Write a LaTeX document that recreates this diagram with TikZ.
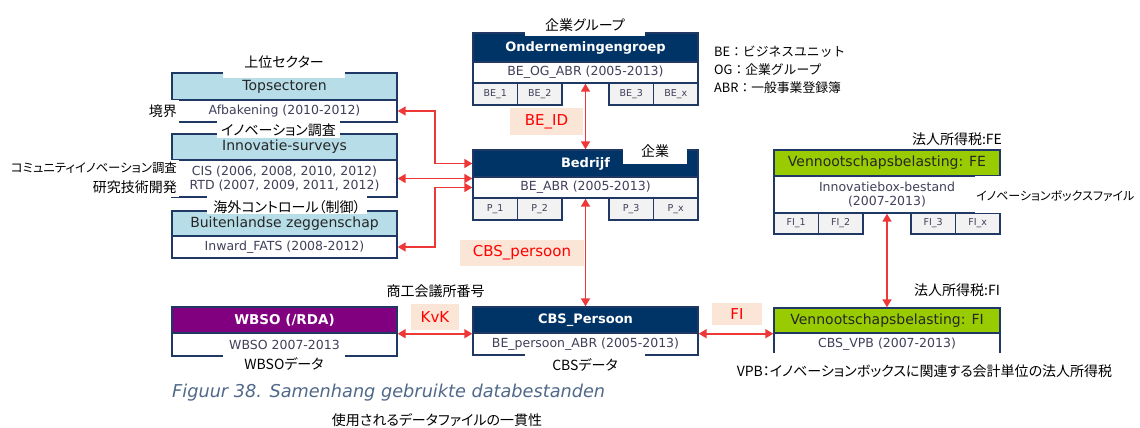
\documentclass[tikz,border=0pt]{standalone}
\usepackage{fontspec}
\setmainfont{DejaVu Sans}
\newfontfamily\jpfont[RawFeature=+palt]{Noto Sans CJK JP}
\newfontfamily\jpwide{Noto Sans CJK JP}
\usetikzlibrary{arrows.meta,positioning}
\definecolor{navyhead}{RGB}{0,51,102}
\definecolor{frame}{RGB}{31,56,100}
\definecolor{tealhead}{RGB}{183,222,232}
\definecolor{limehead}{RGB}{153,204,0}
\definecolor{plumhead}{RGB}{128,0,128}
\definecolor{cellgray}{RGB}{242,242,242}
\definecolor{keypink}{RGB}{251,229,214}
\definecolor{bodytext}{RGB}{64,64,90}
\definecolor{capblue}{RGB}{80,105,138}
\definecolor{linkred}{RGB}{238,55,55}

\begin{document}
\begin{tikzpicture}[x=1pt,y=-1pt,
    box/.style={draw=frame,line width=1.4pt,minimum width=225pt,inner sep=0pt},
    hdrnavy/.style={box,fill=navyhead,text=white,font=\bfseries\fontsize{13}{15}\selectfont},
    hdrblue/.style={box,fill=tealhead,text=black!85,font=\fontsize{14}{16}\selectfont},
    hdrgreen/.style={box,fill=limehead,text=black!85,font=\fontsize{14}{16}\selectfont},
    hdrplum/.style={box,fill=plumhead,text=white,font=\bfseries\fontsize{13.5}{15}\selectfont},
    row/.style={box,fill=white,text=bodytext,align=center,font=\fontsize{12.5}{14.5}\selectfont},
    cell/.style={draw=frame,line width=1.4pt,fill=cellgray,minimum width=44.5pt,minimum height=22pt,inner sep=0pt,text=bodytext,font=\fontsize{9.5}{11}\selectfont},
    key/.style={fill=keypink,text=red,inner sep=0pt,font=\fontsize{15}{17}\selectfont},
    note/.style={fill=white,inner xsep=2pt,inner ysep=2pt,font=\jpfont\fontsize{14}{17}\selectfont},
    link/.style={draw=linkred,line width=1.7pt,{Triangle[length=8pt,width=9pt]}-{Triangle[length=8pt,width=9pt]}}]

  \useasboundingbox (0,0) rectangle (1140,428);
  \fill[white] (0,0) rectangle (1140,428);

  % left column
  \node at (284.5,86.5) [hdrblue,minimum height=27pt] (tophdr) {Topsectoren};
  \node at (284.5,111) [row,minimum height=22pt] (topbody) {Afbakening (2010-2012)};
  \node at (284.5,147) [hdrblue,minimum height=26pt] (innohdr) {Innovatie-surveys};
  \node at (284.5,178.5) [row,minimum height=37pt] (innobody) {CIS (2006, 2008, 2010, 2012)\\RTD (2007, 2009, 2011, 2012)};
  \node at (284.5,223.5) [hdrblue,minimum height=25pt] (buithdr) {Buitenlandse zeggenschap};
  \node at (284.5,247) [row,minimum height=22pt] (buitbody) {Inward\_FATS (2008-2012)};
  \node at (284.5,320) [hdrplum,minimum height=26pt] (wbsohdr) {WBSO (/RDA)};
  \node at (284.5,344.5) [row,minimum height=23pt] (wbsobody) {WBSO 2007-2013};

  % middle column
  \node at (585.5,47.5) [hdrnavy,minimum height=29pt] (oghdr) {Ondernemingengroep};
  \node at (585.5,72.5) [row,minimum height=21pt] (ogbody) {BE\_OG\_ABR (2005-2013)};
  \node at (495.25,94) [cell] (og1) {BE\_1};
  \node at (539.75,94) [cell] (og2) {BE\_2};
  \node at (631.25,94) [cell] (og3) {BE\_3};
  \node at (675.75,94) [cell] (ogx) {BE\_x};
  \node at (585.5,163.5) [hdrnavy,minimum height=27pt] (bedhdr) {Bedrijf};
  \node at (585.5,187.5) [row,minimum height=21pt] (bedbody) {BE\_ABR (2005-2013)};
  \node at (495.25,209) [cell] (p1) {P\_1};
  \node at (539.75,209) [cell] (p2) {P\_2};
  \node at (631.25,209) [cell] (p3) {P\_3};
  \node at (675.75,209) [cell] (px) {P\_x};
  \node at (585.5,320) [hdrnavy,minimum height=26pt] (cbshdr) {CBS\_Persoon};
  \node at (585.5,344) [row,minimum height=22pt] (cbsbody) {BE\_persoon\_ABR (2005-2013)};

  % right column
  \node at (887,163) [hdrgreen,minimum width=226pt,minimum height=26pt] (fehdr) {Vennootschapsbelasting: FE};
  \node at (887,194.5) [row,minimum width=226pt,minimum height=37pt] (febody) {Innovatiebox-bestand\\(2007-2013)};
  \node at (796.25,223.5) [cell,minimum height=21pt] (fi1) {FI\_1};
  \node at (840.75,223.5) [cell,minimum height=21pt] (fi2) {FI\_2};
  \node at (933.25,223.5) [cell,minimum height=21pt] (fi3) {FI\_3};
  \node at (977.75,223.5) [cell,minimum height=21pt] (fix) {FI\_x};
  \node at (887,320.5) [hdrgreen,minimum width=226pt,minimum height=25pt] (fihdr) {Vennootschapsbelasting: FI};
  \node at (887,344) [row,minimum width=226pt,minimum height=22pt] (fibody) {CBS\_VPB (2007-2013)};

  % keys
  \node at (546.5,121.5) [key,minimum width=73pt,minimum height=27pt] (beid) {BE\_ID};
  \node at (522,253) [key,minimum width=124pt,minimum height=26pt] (cbskey) {CBS\_persoon};
  \node at (435,317) [key,minimum width=48pt,minimum height=26pt] (kvk) {KvK};
  \node at (737,314) [key,minimum width=50pt,minimum height=22pt] (fikey) {FI};

  % japanese notes
  \node[note,anchor=base,minimum width=122pt,text height=11pt,text depth=9pt] (topnote) at (284,67) {上位セクター};
  \node[note,anchor=base east,text height=14pt,text depth=5pt] (bordernote) at (179,116) {境界};
  \node[note,anchor=base,minimum width=123pt,text height=14pt,text depth=1pt] (innonote) at (278.5,135) {イノベーション調査};
  \node[note,anchor=base east,text height=10pt,text depth=5pt,font=\jpfont\fontsize{12.4}{15}\selectfont] (cisnote) at (179,172) {コミュニティイノベーション調査};
  \node[note,anchor=base east,text height=11pt,text depth=3pt] (rtdnote) at (179,192) {研究技術開発};
  \node[note,anchor=base,minimum width=160pt,text height=15pt,text depth=0pt] (buitnote) at (287,212) {海外コントロール（制御）};
  \node[note,anchor=base,minimum width=120pt,text height=11pt,text depth=3pt] (ognote) at (585,31) {企業グループ};
  \node[note,anchor=base,minimum width=64pt,text height=11pt,text depth=6pt] (bednote) at (655,156) {企業};
  \node[note,anchor=base,minimum width=122pt,text height=13pt,text depth=2pt] (wbsonote) at (284,369) {WBSOデータ};
  \node[note,anchor=base,minimum width=120pt,text height=14pt,text depth=2pt] (cbsnote) at (585,370) {CBSデータ};
  \node[note,anchor=base] (kvknote) at (435.5,296) {商工会議所番号};
  \node[note,anchor=base] (fenote) at (957,144) {法人所得税:FE};
  \node[note,anchor=base] (finote) at (957,295) {法人所得税:FI};
  \node[note,anchor=base west,text height=22pt,text depth=11pt,inner xsep=1pt,font=\jpfont\fontsize{12}{15}\selectfont] (boxnote) at (975,200) {イノベーションボックスファイル};
  \node[note,anchor=base,text height=21pt] (vpbnote) at (924.5,376) {VPB：イノベーションボックスに関連する会計単位の法人所得税};
  \node[note,anchor=north west,align=left,inner sep=0pt,font=\jpwide\fontsize{12.8}{18}\selectfont] (legend) at (714,46) {BE：ビジネスユニット\\OG：企業グループ\\ABR：一般事業登録簿};

  % caption
  \node[anchor=base west,inner sep=0pt,text=capblue,font=\itshape\fontsize{17.7}{20}\selectfont] (caption) at (172,397) {Figuur 38. Samenhang gebruikte databestanden};
  \node[note,anchor=base] (capnote) at (437,425) {使用されるデータファイルの一貫性};

  % links
  \draw[link] (ogbody.south) -- (bedhdr.north);
  \draw[link] (bedbody.south) -- (cbshdr.north);
  \draw[link] (febody.south) -- (fihdr.north);
  \draw[link] (wbsohdr.south east) -- (cbshdr.south west);
  \draw[link] (cbshdr.south east) -- (fihdr.south west);
  \draw[link] (topbody.east) -- ++(37,0) |- (bedhdr.west);
  \draw[link] (innobody.east) -- (innobody.east -| bedhdr.west);
  \draw[link] (buitbody.east) -- ++(37,0) |- (bedbody.west);

\end{tikzpicture}
\end{document}
